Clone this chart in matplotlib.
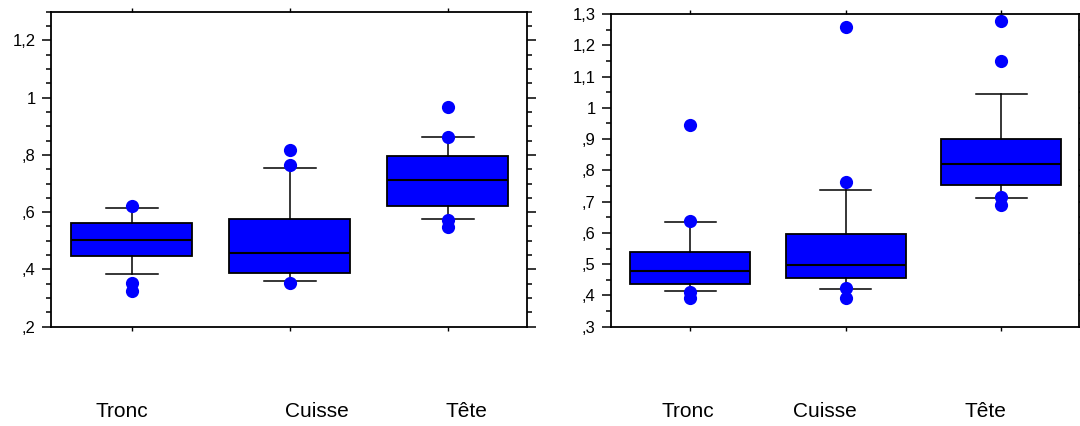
import matplotlib.pyplot as plt
from matplotlib.ticker import MultipleLocator, FuncFormatter

plt.rcParams['font.family'] = ['Liberation Sans', 'DejaVu Sans']

categories = ['Tronc', 'Cuisse', 'Tête']

# left panel: box statistics
left_q1 = [0.446, 0.388, 0.623]
left_med = [0.502, 0.458, 0.714]
left_q3 = [0.562, 0.577, 0.795]
left_wlo = [0.383, 0.360, 0.577]
left_whi = [0.616, 0.755, 0.864]
left_fliers = [[0.622, 0.351, 0.325], [0.817, 0.766, 0.351], [0.966, 0.864, 0.574, 0.548]]

# right panel
right_q1 = [0.436, 0.457, 0.753]
right_med = [0.478, 0.497, 0.820]
right_q3 = [0.540, 0.596, 0.899]
right_wlo = [0.415, 0.419, 0.711]
right_whi = [0.634, 0.738, 1.044]
right_fliers = [[0.945, 0.639, 0.412, 0.393], [1.259, 0.764, 0.423, 0.393], [1.279, 1.149, 0.714, 0.689]]


def comma_fmt(v, pos):
    s = ('%.1f' % v).replace('.', ',')
    if s.startswith('0'):
        s = s[1:]
    if s.endswith(',0'):
        s = s[:-2]
    return s


def draw_panel(ax, q1, med, q3, wlo, whi, fliers, ylim):
    stats = []
    for i in range(len(categories)):
        stats.append({'q1': q1[i], 'med': med[i], 'q3': q3[i],
                      'whislo': wlo[i], 'whishi': whi[i], 'fliers': fliers[i]})
    ax.bxp(stats, positions=[1, 2, 3], widths=0.77, patch_artist=True,
           boxprops=dict(facecolor='#0000ff', edgecolor='black', linewidth=1.3),
           medianprops=dict(color='black', linewidth=1.5),
           whiskerprops=dict(color='black', linewidth=1.1),
           capprops=dict(color='black', linewidth=1.1), capwidths=0.33,
           flierprops=dict(marker='o', markerfacecolor='#0000ff', markeredgecolor='none',
                           markersize=9.5))
    ax.set_xlim(0.49, 3.5)
    ax.set_ylim(*ylim)
    ax.yaxis.set_major_locator(MultipleLocator(0.1 if ylim[0] == 0.3 else 0.2))
    ax.yaxis.set_minor_locator(MultipleLocator(0.05))
    ax.yaxis.set_major_formatter(FuncFormatter(comma_fmt))
    ax.set_xticks([1, 2, 3])
    ax.set_xticklabels([])
    ax.tick_params(axis='y', which='major', direction='out', length=6.5, width=1.1,
                   labelsize=12, left=True, right=True, pad=4.5)
    ax.tick_params(axis='y', which='minor', direction='out', length=3.5, width=1.1,
                   left=True, right=True)
    ax.tick_params(axis='x', which='major', direction='out', length=3, width=1,
                   top=True, bottom=True)
    for sp in ax.spines.values():
        sp.set_linewidth(1.3)


fig = plt.figure(figsize=(10.8, 4.26), dpi=100)
ax1 = fig.add_axes([51 / 1080, 1 - 326.7 / 426, (526.6 - 51) / 1080, (326.7 - 11.7) / 426])
ax2 = fig.add_axes([611 / 1080, 1 - 326.7 / 426, (1079 - 611) / 1080, (326.7 - 14) / 426])

draw_panel(ax1, left_q1, left_med, left_q3, left_wlo, left_whi, left_fliers, (0.2, 1.3))
draw_panel(ax2, right_q1, right_med, right_q3, right_wlo, right_whi, right_fliers, (0.3, 1.3))

# category names sit well below the axes, not centred on the boxes
left_label_x = [122, 317, 466]
right_label_x = [688, 825, 985]
for name, x in zip(categories, left_label_x):
    fig.text(x / 1080, 1 - 411.7 / 426, name, ha='center', va='center', fontsize=15)
for name, x in zip(categories, right_label_x):
    fig.text(x / 1080, 1 - 411.7 / 426, name, ha='center', va='center', fontsize=15)

fig.savefig('out.png', dpi=100)
